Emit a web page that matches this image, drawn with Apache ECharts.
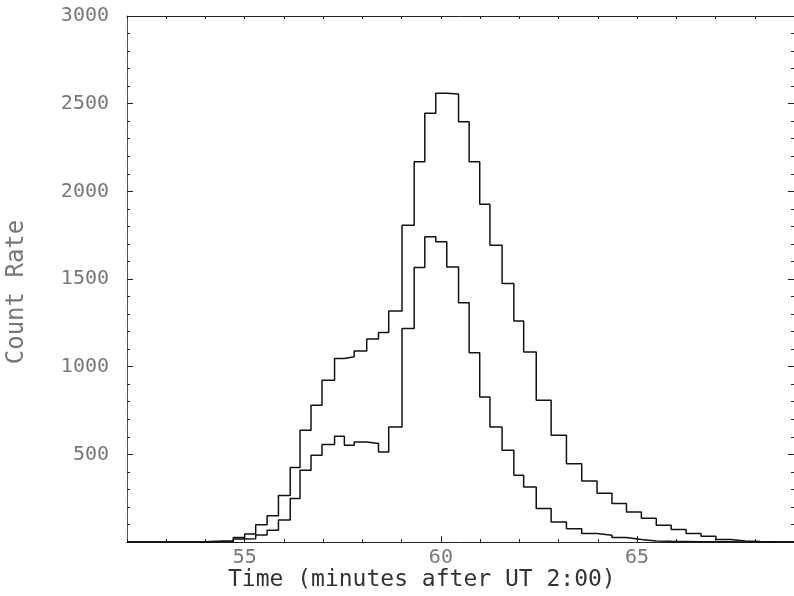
<!DOCTYPE html>
<html><head><meta charset="utf-8">
<script src="https://cdn.jsdelivr.net/npm/echarts@6/dist/echarts.min.js"></script>
<style>html,body{margin:0;padding:0;background:#fff}#c{width:794px;height:596px}</style>
</head><body><div id="c"></div>
<script>
// bin left edges (minutes after UT 2:00), last entry = right edge of last bin
const binEdges = [53.86,54.14,54.43,54.71,55.00,55.28,55.57,55.86,56.16,56.41,56.69,56.97,57.29,57.54,57.79,58.11,58.41,58.67,59.01,59.32,59.59,59.87,60.15,60.45,60.72,60.99,61.25,61.56,61.86,62.11,62.43,62.81,63.20,63.59,63.98,64.36,64.73,65.11,65.49,65.87,66.25,66.63,67.01,67.39,67.76,68.14,68.52,68.90];
const outerCounts = [3,5,6,25,45,98,150,265,425,637,780,923,1047,1056,1090,1158,1195,1318,1807,2169,2445,2559,2555,2397,2169,1927,1693,1475,1260,1084,809,609,447,348,278,219,171,135,95,71,48,33,14,6,3,1,0];
const innerCounts = [0,2,3,17,19,40,67,125,248,409,495,556,603,552,571,562,514,656,1218,1566,1741,1712,1569,1364,1079,827,656,523,381,314,191,114,76,48,38,25,14,6,4,3,2,1,1,0,0,0,0];
const xTickLabels = [55,60,65];
const yTickLabels = [500,1000,1500,2000,2500,3000];
const xMin = 52, xMax = 69, yMin = 0, yMax = 3000;

function stepData(edges, counts){
  const d = [[xMin,0],[edges[0],0]];
  counts.forEach((v,i)=>d.push([edges[i],v]));
  d.push([edges[counts.length], counts[counts.length-1]]);
  d.push([xMax,0]);
  return d;
}
const FONT = 'DejaVu Sans Mono';
const chart = echarts.init(document.getElementById('c'), null, {renderer:'canvas'});
const lineCol = '#222';
const plain = v => String(v);
chart.setOption({
  animation:false,
  backgroundColor:'#fff',
  grid:{left:127, top:16, right:-2, bottom:54, containLabel:false},
  xAxis:[
    {type:'value', min:xMin, max:xMax, interval:1, position:'bottom',
     axisLine:{show:true, lineStyle:{color:lineCol, width:1}},
     axisTick:{show:true, inside:true, length:3, lineStyle:{color:lineCol}},
     axisLabel:{show:true, customValues:xTickLabels, formatter:plain, margin:6, color:'#777', fontFamily:FONT, fontSize:20},
     splitLine:{show:false}},
    {type:'value', min:xMin, max:xMax, interval:1, position:'bottom',
     axisLine:{show:false},
     axisTick:{show:true, inside:true, length:6, customValues:xTickLabels, lineStyle:{color:lineCol}},
     axisLabel:{show:false}, splitLine:{show:false}},
    {type:'value', min:xMin, max:xMax, interval:1, position:'top',
     axisLine:{show:true, lineStyle:{color:lineCol, width:1}},
     axisTick:{show:true, inside:true, length:3, lineStyle:{color:lineCol}},
     axisLabel:{show:false}, splitLine:{show:false}}
  ],
  yAxis:[
    {type:'value', min:yMin, max:yMax, interval:500, position:'left',
     axisLine:{show:true, lineStyle:{color:'#555', width:1}},
     axisTick:{show:true, inside:true, length:6, lineStyle:{color:lineCol}},
     minorTick:{show:true, splitNumber:5, length:3, lineStyle:{color:lineCol}},
     axisLabel:{show:true, customValues:yTickLabels, formatter:plain, margin:18, color:'#777', fontFamily:FONT, fontSize:20},
     splitLine:{show:false}, minorSplitLine:{show:false}},
    {type:'value', min:yMin, max:yMax, interval:500, position:'right',
     axisLine:{show:true, lineStyle:{color:lineCol, width:1}},
     axisTick:{show:true, inside:true, length:6, lineStyle:{color:lineCol}},
     minorTick:{show:true, splitNumber:5, length:3, lineStyle:{color:lineCol}},
     axisLabel:{show:false}, splitLine:{show:false}, minorSplitLine:{show:false}}
  ],
  series:[
    {type:'line', name:'outer', step:'end', data:stepData(binEdges, outerCounts),
     showSymbol:false, symbol:'none', lineStyle:{color:'#111', width:1.5}, xAxisIndex:0, yAxisIndex:0, z:5},
    {type:'line', name:'inner', step:'end', data:stepData(binEdges, innerCounts),
     showSymbol:false, symbol:'none', lineStyle:{color:'#111', width:1.5}, xAxisIndex:0, yAxisIndex:0, z:5}
  ],
  graphic:[
    {type:'text', left:228, top:569, style:{text:'Time (minutes after UT 2:00)', fill:'#333', font:'23px "'+FONT+'"'}},
    {type:'text', x:17, y:292, rotation:Math.PI/2, style:{text:'Count Rate', fill:'#777', font:'24px "'+FONT+'"', align:'center', verticalAlign:'middle'}}
  ]
});
</script>
</body></html>
